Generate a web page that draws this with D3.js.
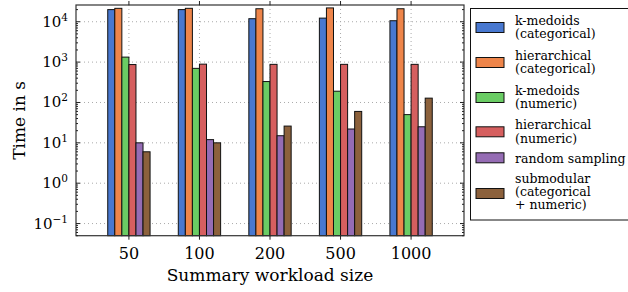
<!DOCTYPE html>
<html>
<head>
<meta charset="utf-8">
<script src="https://cdn.jsdelivr.net/npm/d3@7"></script>
<style>
  body { margin: 0; background: #fff; }
  text { font-family: "DejaVu Serif", serif; fill: #000; }
</style>
</head>
<body>
<div id="chart"></div>
<script>
// workload sizes on the x axis
const sizes = ["50", "100", "200", "500", "1000"];

// one array per method, values in seconds
const kmedoidsCat = [20000, 20000, 11900, 12300, 10600];
const hierCat = [21500, 21500, 21000, 22000, 21000];
const kmedoidsNum = [1330, 700, 330, 190, 50];
const hierNum = [870, 890, 880, 880, 880];
const randomSampling = [10, 12, 15, 22, 25];
const submodular = [6, 10, 26, 60, 128];

const methods = [
  ["k-medoids", "(categorical)"],
  ["hierarchical", "(categorical)"],
  ["k-medoids", "(numeric)"],
  ["hierarchical", "(numeric)"],
  ["random sampling"],
  ["submodular", "(categorical", "+ numeric)"]
];
const series = [kmedoidsCat, hierCat, kmedoidsNum, hierNum, randomSampling, submodular];
const colors = ["#4878d0", "#ee854a", "#6acc64", "#d65f5f", "#956cb4", "#8c613c"];

const yTicks = [-1, 0, 1, 2, 3, 4];

const width = 628, height = 292;
const pLeft = 76, pRight = 464, pTop = 5, pBottom = 235.7;

const svg = d3.select("#chart").append("svg")
  .attr("width", width)
  .attr("height", height);

const x = d3.scaleLinear().domain([-0.75, 4.75]).range([pLeft, pRight]);
const y = d3.scaleLog().domain([0.05, 26000]).range([pBottom, pTop]);

// grid lines
const grid = svg.append("g").attr("stroke", "#aaa").attr("stroke-dasharray", "1,3").attr("stroke-width", 1);
grid.selectAll(".gy").data(yTicks).enter().append("line")
  .attr("x1", pLeft).attr("x2", pRight)
  .attr("y1", d => y(Math.pow(10, d))).attr("y2", d => y(Math.pow(10, d)));
grid.selectAll(".gx").data(sizes).enter().append("line")
  .attr("x1", (d, i) => x(i)).attr("x2", (d, i) => x(i))
  .attr("y1", pTop).attr("y2", pBottom);

// bars
const barW = 0.1;
series.forEach((vals, j) => {
  svg.append("g").selectAll("rect").data(vals).enter().append("rect")
    .attr("x", (d, i) => x(i + (j - 3) * barW))
    .attr("width", x(barW) - x(0))
    .attr("y", d => y(d))
    .attr("height", d => pBottom - y(d))
    .attr("fill", colors[j])
    .attr("stroke", "#111")
    .attr("stroke-width", 1);
});

// frame
svg.append("rect")
  .attr("x", pLeft).attr("y", pTop)
  .attr("width", pRight - pLeft).attr("height", pBottom - pTop)
  .attr("fill", "none").attr("stroke", "#333").attr("stroke-width", 1.2);

// y ticks (major + minor, inward on both sides)
const ticks = svg.append("g").attr("stroke", "#222").attr("stroke-width", 1);
const minor = [];
for (let e = -2; e <= 4; e++) {
  for (let m = 2; m <= 9; m++) {
    const v = m * Math.pow(10, e);
    if (v >= 0.05 && v <= 26000) minor.push(v);
  }
}
ticks.selectAll(".ml").data(minor).enter().append("line")
  .attr("x1", pLeft).attr("x2", pLeft + 2)
  .attr("y1", d => y(d)).attr("y2", d => y(d));
ticks.selectAll(".mr").data(minor).enter().append("line")
  .attr("x1", pRight).attr("x2", pRight - 2)
  .attr("y1", d => y(d)).attr("y2", d => y(d));
ticks.selectAll(".Ml").data(yTicks).enter().append("line")
  .attr("x1", pLeft).attr("x2", pLeft + 4)
  .attr("y1", d => y(Math.pow(10, d))).attr("y2", d => y(Math.pow(10, d)));
ticks.selectAll(".Mr").data(yTicks).enter().append("line")
  .attr("x1", pRight).attr("x2", pRight - 4)
  .attr("y1", d => y(Math.pow(10, d))).attr("y2", d => y(Math.pow(10, d)));
// x ticks outward top and bottom
ticks.selectAll(".xb").data(sizes).enter().append("line")
  .attr("x1", (d, i) => x(i)).attr("x2", (d, i) => x(i))
  .attr("y1", pBottom).attr("y2", pBottom + 4);
ticks.selectAll(".xt").data(sizes).enter().append("line")
  .attr("x1", (d, i) => x(i)).attr("x2", (d, i) => x(i))
  .attr("y1", pTop).attr("y2", pTop - 4);

// y tick labels
const yl = svg.append("g").selectAll("text").data(yTicks).enter().append("text")
  .attr("x", pLeft - 8)
  .attr("y", d => y(Math.pow(10, d)) + 5)
  .attr("text-anchor", "end")
  .attr("font-size", 15);
yl.append("tspan").text("10");
yl.append("tspan").attr("dy", -6).attr("font-size", 10.5)
  .text(d => d < 0 ? "\u2212" + (-d) : d);

// x tick labels
svg.append("g").selectAll("text").data(sizes).enter().append("text")
  .attr("x", (d, i) => x(i))
  .attr("y", 258.5)
  .attr("text-anchor", "middle")
  .attr("font-size", 16)
  .text(d => d);

// axis titles
svg.append("text")
  .attr("x", (pLeft + pRight) / 2)
  .attr("y", 281)
  .attr("text-anchor", "middle")
  .attr("font-size", 17)
  .text("Summary workload size");
svg.append("text")
  .attr("transform", `translate(25, ${(pTop + pBottom) / 2}) rotate(-90)`)
  .attr("text-anchor", "middle")
  .attr("font-size", 17)
  .text("Time in s");

// legend
const legend = svg.append("g");
legend.append("rect")
  .attr("x", 470.5).attr("y", 8.5)
  .attr("width", 160).attr("height", 211.5)
  .attr("fill", "#fff").attr("stroke", "#111").attr("stroke-width", 1);
const centers = [27.5, 62.5, 97.5, 131.8, 157.8, 193.5];
const item = legend.selectAll(".item").data(methods).enter().append("g")
  .attr("transform", (d, i) => `translate(0, ${centers[i]})`);
item.append("rect")
  .attr("x", 476).attr("y", -5)
  .attr("width", 28).attr("height", 10)
  .attr("fill", (d, i) => colors[i])
  .attr("stroke", "#111");
item.append("text")
  .attr("font-size", 12.5)
  .selectAll("tspan").data(d => d).enter().append("tspan")
  .attr("x", 515)
  .attr("y", (d, k, nodes) => (k - (nodes.length - 1) / 2) * 13.4 + 7 - 1.5 * nodes.length)
  .text(d => d);
</script>
</body>
</html>
